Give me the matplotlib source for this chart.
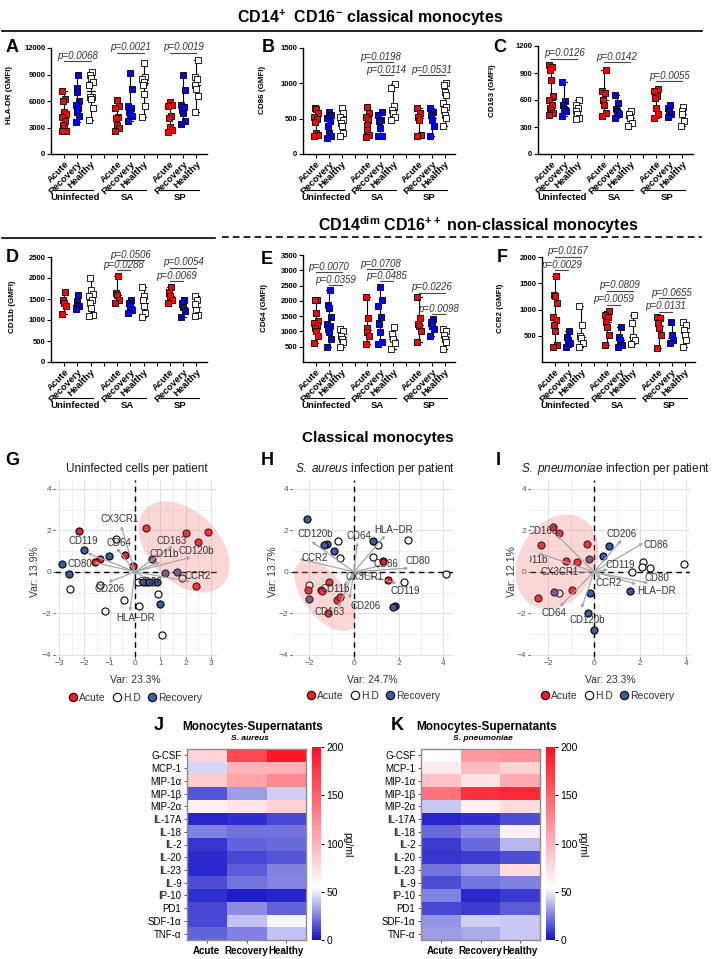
import numpy as np
import matplotlib
matplotlib.use('Agg')
import matplotlib.pyplot as plt
from matplotlib.lines import Line2D
from matplotlib.colors import LinearSegmentedColormap

plt.rcParams['font.family'] = ['Liberation Sans', 'DejaVu Sans']
plt.rcParams['mathtext.fontset'] = 'custom'
plt.rcParams['mathtext.rm'] = 'Liberation Sans'
plt.rcParams['mathtext.it'] = 'Liberation Sans:italic'
plt.rcParams['mathtext.bf'] = 'Liberation Sans:bold'
plt.rcParams['mathtext.default'] = 'regular'

# ---------------- data: dot plots (GMFI) ----------------
# order: Uninfected Acute/Recovery/Healthy, SA ..., SP ...
hla_dr = [
    [7100, 6200, 6000, 4800, 4500, 4200, 3700, 3300, 3000, 2650, 2600],
    [9000, 7500, 7000, 6000, 5500, 5200, 5000, 4700, 4300, 3600],
    [9300, 8900, 8600, 8200, 7800, 6500, 6400, 6200, 5200, 3900],
    [6100, 5400, 5200, 4200, 4100, 3300, 2900, 2600],
    [9200, 7400, 5400, 5200, 4800, 4500, 4300, 3700],
    [10300, 8700, 8500, 8200, 7800, 6800, 5400, 4200],
    [5900, 5500, 5400, 4300, 4100, 3100, 2700, 2500],
    [9000, 7200, 5500, 5300, 5000, 4600, 3700, 3400],
    [10600, 8700, 8500, 7800, 7400, 6600, 4800],
]
cd86 = [
    [650, 640, 580, 530, 500, 450, 300, 270, 260],
    [600, 550, 505, 460, 400, 295, 250, 225],
    [650, 575, 530, 480, 435, 390, 295, 258],
    [660, 575, 530, 480, 410, 340, 270, 240],
    [600, 550, 480, 460, 365, 258, 250],
    [985, 930, 680, 625, 575, 530, 480],
    [650, 575, 530, 480, 270, 258],
    [650, 600, 550, 480, 390, 250],
    [1000, 975, 880, 835, 715, 670, 625, 550, 505, 390],
]
cd163 = [
    [990, 970, 935, 825, 640, 595, 550, 515, 485, 460, 430],
    [800, 585, 550, 505, 475, 420],
    [595, 550, 515, 475, 440, 405, 385],
    [935, 695, 680, 605, 550, 460, 420],
    [655, 570, 505, 475, 440, 405],
    [475, 440, 405, 340, 310],
    [725, 695, 650, 625, 515, 440, 405],
    [550, 515, 475, 440, 410],
    [520, 475, 440, 365, 310],
]
cd11b = [
    [1660, 1485, 1405, 1325, 1150],
    [1600, 1445, 1365, 1325, 1260],
    [2000, 1720, 1630, 1565, 1485, 1405, 1285, 1127, 1090],
    [2055, 1645, 1600, 1485, 1405],
    [1485, 1405, 1325, 1245, 1165],
    [1785, 1565, 1485, 1325, 1165, 1070],
    [1785, 1660, 1565, 1485, 1405],
    [1485, 1405, 1310, 1205, 1070],
    [1580, 1485, 1390, 1245, 1127, 1090],
]
cd64 = [
    [2040, 2020, 1610, 1340, 1265, 1180, 1125, 1020, 835, 620],
    [2345, 1880, 1775, 1480, 1235, 1180, 1070, 965, 750, 480],
    [1070, 1020, 855, 750, 640, 480],
    [2130, 1450, 1125, 965, 855, 590],
    [2440, 2040, 1830, 1480, 1235, 965, 660, 590],
    [1150, 910, 750, 620, 425],
    [2130, 1450, 1235, 1180, 1020, 660],
    [1395, 1310, 1180, 1070, 855],
    [1095, 1020, 880, 750, 640, 425],
]
ccr2 = [
    [1640, 1280, 1250, 1120, 865, 800, 705, 590, 320, 290],
    [595, 480, 415, 355, 290],
    [1070, 705, 495, 450, 355, 290],
    [970, 895, 865, 770, 670, 515, 320],
    [660, 480, 415, 320, 290],
    [895, 750, 480, 415, 340],
    [865, 830, 735, 640, 515, 260],
    [755, 515, 415, 355],
    [770, 705, 610, 515, 415, 290],
]
# p-value brackets: (group i, group j, bracket height, p)
p_hla = [(0, 2, 10500, '0.0068'), (3, 5, 11450, '0.0021'), (6, 8, 11450, '0.0019')]
p_cd86 = [(3, 5, 1295, '0.0198'), (4, 5, 1115, '0.0114'), (6, 8, 1115, '0.0531')]
p_cd163 = [(0, 2, 1057, '0.0126'), (3, 5, 1017, '0.0142'), (6, 8, 807, '0.0055')]
p_cd11b = [(3, 5, 2420, '0.0506'), (3, 4, 2185, '0.0288'), (6, 8, 2240, '0.0054'), (6, 7, 1920, '0.0069')]
p_cd64 = [(0, 2, 2940, '0.0070'), (1, 2, 2507, '0.0359'), (3, 5, 3035, '0.0708'), (4, 5, 2636, '0.0485'),
          (6, 8, 2259, '0.0226'), (7, 8, 1557, '0.0098')]
p_ccr2 = [(0, 2, 2000, '0.0167'), (0, 1, 1744, '0.0029'), (3, 5, 1361, '0.0809'), (3, 4, 1087, '0.0059'),
          (6, 8, 1215, '0.0655'), (6, 7, 960, '0.0131')]

conditions = ['Acute', 'Recovery', 'Healthy']
groups = ['Uninfected', 'SA', 'SP']

# ---------------- data: PCA biplots ----------------
g_acute = [(-2.2, 1.97), (0.42, 2.1), (2.0, 1.86), (2.9, 1.9), (2.5, 1.45), (2.4, -0.7),
           (-0.38, 0.83), (-1.4, 0.62), (-1.58, 0.47), (-0.07, 0.3)]
g_hd = [(-0.75, 1.6), (-2.55, -0.85), (-1.38, -0.65), (-0.45, -1.35), (-1.2, -1.9), (0.15, -1.65),
        (0.92, -1.05), (1.85, -0.3), (1.05, -3.03), (0.12, -0.5), (0.45, -0.5), (0.7, -0.5)]
g_rec = [(-2.0, 1.05), (-2.9, 0.4), (-2.6, -0.1), (-1.04, 0.74), (0.66, 0.62), (1.19, -0.08),
         (1.65, 0.0), (0.3, -0.47), (0.57, -0.47), (0.86, -0.47), (1.0, -1.55)]
g_load_names = ['CX3CR1', 'CD119', 'CD64', 'CD80', 'CD206', 'HLA\u2212DR', 'CD163', 'CD11b', 'CD120b', 'CCR2', 'CD86']
g_load = [(-0.55, 2.2), (-1.87, 0.9), (-0.72, 1.14), (-1.6, 0.45), (-1.05, -0.5), (-0.2, -1.9),
          (1.49, 1.25), (0.99, 0.47), (2.2, 0.7), (2.17, -0.47), (0.5, -0.35)]
g_lab_pos = [(-0.6, 2.53), (-2.04, 1.46), (-0.62, 1.38), (-2.17, 0.38), (-1.0, -0.83), (0.04, -2.24),
             (1.45, 1.49), (1.15, 0.86), (2.44, 0.98), (2.48, -0.18), (0.6, -0.47)]

h_acute = [(1.29, 0.5), (1.54, -0.38), (-1.1, -0.51), (-1.48, -0.87), (-1.42, -0.9), (-2.05, -0.87),
           (-0.75, -1.38), (-0.63, -1.19), (-1.15, -1.99)]
h_hd = [(-0.7, 1.5), (-0.63, 0.66), (1.06, 1.3), (0.84, 0.7), (2.44, 1.54), (2.26, -0.47),
        (4.13, -0.11), (-2.02, -0.63)]
h_rec = [(-2.12, 2.55), (-1.2, 1.35), (-1.35, 1.27), (-0.9, 1.01), (0.87, 1.46), (1.84, -1.63),
         (1.76, -1.7), (-2.0, -1.3)]
h_load_names = ['CD120b', 'CD64', 'HLA\u2212DR', 'CCR2', 'CD86', 'CD80', 'CX3CR1', 'CD119', 'CD11b', 'CD206', 'CD163']
h_load = [(-1.9, 1.46), (0.15, 1.41), (1.39, 1.75), (-2.45, 0.62), (1.2, 0.3), (2.44, 0.18),
          (0.45, -0.2), (1.9, -0.55), (-0.45, -0.7), (-0.2, -1.3), (-0.7, -1.7)]
h_lab_pos = [(-1.75, 1.81), (0.2, 1.73), (1.79, 2.02), (-1.75, 0.66), (1.42, 0.37), (2.86, 0.54),
             (0.49, -0.26), (2.32, -0.9), (-0.85, -0.83), (0.54, -1.63), (-1.08, -1.91)]

i_acute = [(-1.8, 2.15), (-1.52, 1.89), (-2.32, 1.3), (-0.29, 1.33), (-1.22, 0.5), (-0.75, 0.45),
           (-0.97, -0.87), (-2.45, -1.24)]
i_hd = [(-1.52, -1.02), (1.67, -0.03), (2.12, 0.45), (2.07, 0.22), (2.43, 0.18), (3.91, 0.38)]
i_rec = [(-0.22, 0.61), (-1.74, -0.95), (0.65, 1.22), (0.38, 0.74), (1.57, -0.91), (-0.17, -1.02),
         (-0.25, -1.96), (0.0, -2.79)]
i_load_names = ['CD163', 'CD11b', 'CX3CR1', 'CD64', 'CD120b', 'CCR2', 'CD206', 'CD86', 'CD119', 'CD80', 'HLA\u2212DR']
i_load = [(-1.6, 1.75), (-2.42, 0.9), (-1.0, 0.0), (-1.48, -1.67), (-0.54, -1.75), (0.3, -0.3),
          (1.2, 1.54), (2.13, 1.38), (0.6, 0.1), (2.36, -0.54), (1.83, -0.59)]
i_lab_pos = [(-2.25, 1.97), (-2.65, 0.55), (-1.48, -0.03), (-1.74, -1.96), (-0.29, -2.31), (0.62, -0.54),
             (1.2, 1.81), (2.7, 1.27), (1.13, 0.34), (2.72, -0.3), (2.7, -0.91)]

# ---------------- data: heatmaps (pg/ml) ----------------
cytokines = ['G-CSF', 'MCP-1', 'MIP-1\u03b1', 'MIP-1\u03b2', 'MIP-2\u03b1', 'IL-17A', 'IL-18', 'IL-2',
             'IL-20', 'IL-23', 'IL-9', 'IP-10', 'PD1', 'SDF-1\u03b1', 'TNF-\u03b1']
sa_heat = [[80, 165, 195], [45, 100, 100], [85, 110, 125], [15, 32, 43], [62, 70, 82],
           [4, 7, 12], [25, 22, 22], [8, 18, 20], [6, 12, 15], [5, 17, 25],
           [14, 22, 26], [7, 3, 4], [12, 28, 18], [12, 40, 52], [18, 25, 40]]
sp_heat = [[55, 115, 120], [65, 95, 80], [90, 70, 105], [140, 180, 185], [42, 62, 75],
           [4, 7, 14], [20, 28, 62], [10, 20, 38], [8, 10, 14], [22, 32, 75],
           [14, 22, 25], [25, 5, 9], [12, 10, 17], [30, 43, 42], [32, 35, 42]]

# ---------------- layout helpers ----------------
W, H = 723, 959
fig = plt.figure(figsize=(W / 100, H / 100), dpi=100)


def add_ax(l, t, r, b):
    return fig.add_axes([l / W, 1 - b / H, (r - l) / W, (b - t) / H])


def ftext(x, y, s, **kw):
    kw.setdefault('ha', 'center')
    kw.setdefault('va', 'center')
    return fig.text(x / W, 1 - y / H, s, **kw)


xpos = [0, 1, 2, 4, 5, 6, 8, 9, 10]
fills = ['#ff0000', '#0000ff', '#ffffff']
jit = [-0.14, 0.14, 0.0, -0.07, 0.07]


def dot_panel(box, data, ylim, yticks, pvals):
    ax = add_ax(*box)
    for k, vals in enumerate(data):
        x0 = xpos[k]
        v = np.array(vals, dtype=float)
        lo, hi, med = v.min(), v.max(), np.median(v)
        ax.plot([x0, x0], [lo, hi], color='k', lw=0.8, zorder=1)
        for yy in (lo, hi):
            ax.plot([x0 - 0.2, x0 + 0.2], [yy, yy], color='k', lw=0.8, zorder=1)
        ax.plot([x0 - 0.3, x0 + 0.3], [med, med], color='k', lw=0.8, zorder=1)
        order = np.argsort(v)
        offs = np.zeros(len(v))
        offs[order] = [jit[i % len(jit)] for i in range(len(v))]
        ax.scatter(x0 + offs, v, marker='s', s=17, c=fills[k % 3], edgecolors='k',
                   linewidths=0.6, zorder=3, clip_on=False)
    ax.set_xlim(-1, 10.8)
    ax.set_ylim(*ylim)
    ax.set_yticks(yticks)
    ax.set_xticks(range(11))
    names = []
    for i in range(11):
        names.append('' if i % 4 == 3 else conditions[i % 4])
    ax.set_xticklabels(names, rotation=45, ha='right', rotation_mode='anchor',
                       fontsize=6.8, fontweight='bold')
    for s in ['top', 'right']:
        ax.spines[s].set_visible(False)
    for s in ['left', 'bottom']:
        ax.spines[s].set_linewidth(1.0)
    ax.tick_params(axis='y', labelsize=5.5, length=3, width=0.8, pad=1)
    ax.tick_params(axis='x', length=3, width=0.8, pad=1)
    for lab in ax.get_yticklabels():
        lab.set_fontweight('bold')
    hpx = box[3] - box[1]
    trans = ax.get_xaxis_transform()
    for g, name in enumerate(groups):
        ax.plot([4 * g - 0.6, 4 * g + 2.2], [-36 / hpx] * 2, transform=trans, clip_on=False,
                color='k', lw=0.8)
        ax.text(4 * g + 0.8, -44 / hpx, name, transform=trans, ha='center', va='center',
                fontsize=6.8, fontweight='bold')
    for i, j, y, p in pvals:
        ax.plot([xpos[i], xpos[j]], [y, y], color='#444444', lw=0.8, clip_on=False)
        ax.text((xpos[i] + xpos[j]) / 2, y + ylim[1] * 0.005, 'p=' + p, ha='center', va='bottom',
                fontsize=7, style='italic', color='#333333', clip_on=False)
    return ax


red_pt, blue_pt = '#f01e23', '#3b5ba5'


def pca_panel(box, xlim, xmaj, xmin, acute, hd, rec, names, loads, lab_pos, ell):
    ax = add_ax(*box)
    ylim = (-4.1, 4.42)
    ax.set_xlim(*xlim)
    ax.set_ylim(*ylim)
    ax.set_xticks(xmaj)
    ax.set_xticks(xmin, minor=True)
    ax.set_yticks([-4, -2, 0, 2, 4])
    ax.set_yticks([-3, -1, 1, 3], minor=True)
    ax.grid(which='major', color='#e4e4e4', lw=0.8)
    ax.grid(which='minor', color='#efefef', lw=0.6)
    ax.set_axisbelow(True)
    for s in ax.spines.values():
        s.set_visible(False)
    ax.tick_params(which='major', labelsize=6, length=1.5, width=0.8, color='#555555',
                   labelcolor='#555555', pad=1)
    ax.tick_params(which='minor', length=0)
    ax.axhline(0, color='k', ls=(0, (4, 3)), lw=1.0, zorder=2)
    ax.axvline(0, color='k', ls=(0, (4, 3)), lw=1.0, zorder=2)
    for pts, col in [(hd, 'white'), (rec, blue_pt), (acute, red_pt)]:
        p = np.array(pts)
        ax.scatter(p[:, 0], p[:, 1], s=26, c=col, edgecolors='k', linewidths=0.8, zorder=3)
    # shaded ellipse around the acute cluster (pixel semi-axes, angle)
    (cx, cy), a, b, ang = ell
    sx = (box[2] - box[0]) / (xlim[1] - xlim[0])
    sy = (box[3] - box[1]) / (ylim[1] - ylim[0])
    t = np.linspace(0, 2 * np.pi, 200)
    c, s = np.cos(np.radians(ang)), np.sin(np.radians(ang))
    u, v = a * np.cos(t), b * np.sin(t)
    ax.fill(cx + (u * c - v * s) / sx, cy + (u * s + v * c) / sy, color='#f07070', alpha=0.28,
            lw=0, zorder=4, clip_on=False)
    for nm, (ex, ey), (lx, ly) in zip(names, loads, lab_pos):
        ax.annotate('', xy=(ex, ey), xytext=(0, 0), zorder=5,
                    arrowprops=dict(arrowstyle='-|>', color='#a6a6a6', lw=0.9, shrinkA=0,
                                    shrinkB=0, mutation_scale=4))
        ax.text(lx, ly, nm, fontsize=7, color='#333333', ha='center', va='center', zorder=6,
                clip_on=True)
    return ax


def pca_legend(ax, x, y):
    hs = [Line2D([], [], ls='', marker='o', markersize=6, markerfacecolor=col, markeredgecolor='k',
                 markeredgewidth=0.8, label=lab)
          for col, lab in [(red_pt, 'Acute'), ('white', 'H.D'), (blue_pt, 'Recovery')]]
    lg = ax.legend(handles=hs, loc='center', bbox_to_anchor=(x / W, 1 - y / H),
                   bbox_transform=fig.transFigure, ncol=3, frameon=False, fontsize=7.5,
                   handletextpad=0.05, columnspacing=0.6, handlelength=1.0, borderpad=0)
    for tx in lg.get_texts():
        tx.set_color('#333333')


cmap = LinearSegmentedColormap.from_list('bwr_pg', [(0, '#1414c8'), (0.27, '#ffffff'), (1, '#ff1020')])


def heat_panel(box, cbox, vals, cbar_x):
    ax = add_ax(*box)
    im = ax.imshow(np.array(vals), cmap=cmap, vmin=0, vmax=200, aspect='auto', interpolation='nearest')
    ax.set_yticks(range(len(cytokines)))
    ax.set_yticklabels(cytokines, fontsize=7, fontweight='normal')
    ax.set_xticks(range(3))
    ax.set_xticklabels(conditions, fontsize=7, fontweight='bold')
    ax.tick_params(length=2.5, width=0.7, color='#555555', pad=1.5)
    for s in ax.spines.values():
        s.set_color('#8c8c8c')
        s.set_linewidth(1.0)
    cax = add_ax(*cbox)
    cb = fig.colorbar(im, cax=cax, ticks=[0, 50, 100, 150, 200])
    cb.outline.set_visible(False)
    cb.ax.tick_params(labelsize=7.5, length=2, width=0.7, pad=2)
    ftext(cbar_x, 845, 'pg/ml', rotation=270, fontsize=7.5)
    return ax


# ---------------- titles and separators ----------------
ftext(370, 18, 'CD14$^{+}$  CD16$^{-}$ classical monocytes', fontsize=11.5, fontweight='bold')
fig.add_artist(Line2D([2 / W, 702 / W], [1 - 31 / H] * 2, color='k', lw=1.2))
ftext(478, 225, 'CD14$^{dim}$ CD16$^{++}$ non-classical monocytes', fontsize=11.5, fontweight='bold')
fig.add_artist(Line2D([2 / W, 215 / W], [1 - 238 / H] * 2, color='k', lw=1.2))
fig.add_artist(Line2D([222 / W, 702 / W], [1 - 237 / H] * 2, color='k', lw=1.2, ls=(0, (4, 2.5))))
ftext(378, 438, 'Classical monocytes', fontsize=11, fontweight='bold')

# ---------------- dot plots ----------------
dot_panel((51, 48, 207, 154), hla_dr, (0, 12000), [0, 3000, 6000, 9000, 12000], p_hla)
dot_panel((303, 48, 455, 154), cd86, (0, 1500), [0, 500, 1000, 1500], p_cd86)
dot_panel((538, 46, 693, 154), cd163, (0, 1200), [0, 300, 600, 900, 1200], p_cd163)
dot_panel((51, 257, 207, 362), cd11b, (0, 2500), [0, 500, 1000, 1500, 2000, 2500], p_cd11b)
dot_panel((303, 255, 455, 362), cd64, (0, 3500), [500, 1000, 1500, 2000, 2500, 3000, 3500], p_cd64)
dot_panel((542, 257, 695, 362), ccr2, (0, 2000), [500, 1000, 1500, 2000], p_ccr2)

for lt, x, y in [('A', 12, 48), ('B', 268, 48), ('C', 500, 48), ('D', 12, 257), ('E', 267, 259), ('F', 502, 257)]:
    ftext(x, y, lt, fontsize=13, fontweight='bold')
for lab, x, y in [('HLA-DR (GMFI)', 10, 95), ('CD86 (GMFI)', 263, 90), ('CD163 (GMFI)', 493, 91),
                  ('CD11b (GMFI)', 13, 307), ('CD64 (GMFI)', 265, 308), ('CCR2 (GMFI)', 501, 308)]:
    ftext(x, y, lab, rotation=90, fontsize=5.8, fontweight='bold')

# ---------------- PCA ----------------
axg = pca_panel((55, 480, 217, 657), (-3.16, 3.24), [-3, -2, -1, 0, 1, 2, 3],
                np.arange(-3, 3.1, 0.5), g_acute, g_hd, g_rec, g_load_names, g_load, g_lab_pos,
                ((1.94, 1.2), 54, 35, -45))
axh = pca_panel((292, 480, 453, 657), (-2.78, 4.44), [-2, 0, 2, 4], [-1, 1, 3],
                h_acute, h_hd, h_rec, h_load_names, h_load, h_lab_pos, ((-1.3, -1.15), 42, 21, -52))
axi = pca_panel((530, 480, 690, 657), (-2.78, 4.17), [-2, 0, 2, 4], [-1, 1, 3],
                i_acute, i_hd, i_rec, i_load_names, i_load, i_lab_pos, ((-1.6, 0.48), 50, 38, 60))

ftext(137, 469, 'Uninfected cells per patient', fontsize=8.5, color='#1a1a1a')
ftext(375, 469, r'$\mathit{S.\ aureus}$ infection per patient', fontsize=8.5, color='#1a1a1a')
ftext(615, 469, r'$\mathit{S.\ pneumoniae}$ infection per patient', fontsize=8.5, color='#1a1a1a')
for lt, x in [('G', 12), ('H', 267), ('I', 498)]:
    ftext(x, 461, lt, fontsize=13, fontweight='bold')
for lab, x in [('Var: 23.3%', 135), ('Var: 24.7%', 372), ('Var: 23.3%', 610)]:
    ftext(x, 680, lab, fontsize=7.5, color='#333333')
for lab, x in [('Var: 13.9%', 35), ('Var: 13.7%', 273), ('Var: 12.1%', 512)]:
    ftext(x, 572, lab, rotation=90, fontsize=7.5, color='#333333')
pca_legend(axg, 135, 698)
pca_legend(axh, 373, 696)
pca_legend(axi, 607, 696)

# ---------------- heatmaps ----------------
heat_panel((187, 749, 306, 940), (312, 747, 321, 940), sa_heat, 347)
heat_panel((421, 749, 540, 940), (546, 747, 555, 940), sp_heat, 582)
ftext(159, 725, 'J', fontsize=13, fontweight='bold')
ftext(397, 725, 'K', fontsize=13, fontweight='bold')
ftext(253, 727, 'Monocytes-Supernatants', fontsize=8.5, fontweight='bold')
ftext(250, 739, 'S. aureus', fontsize=6, fontweight='bold', style='italic')
ftext(487, 727, 'Monocytes-Supernatants', fontsize=8.5, fontweight='bold')
ftext(483, 739, 'S. pneumoniae', fontsize=6, fontweight='bold', style='italic')

fig.savefig('out.png', dpi=100)
